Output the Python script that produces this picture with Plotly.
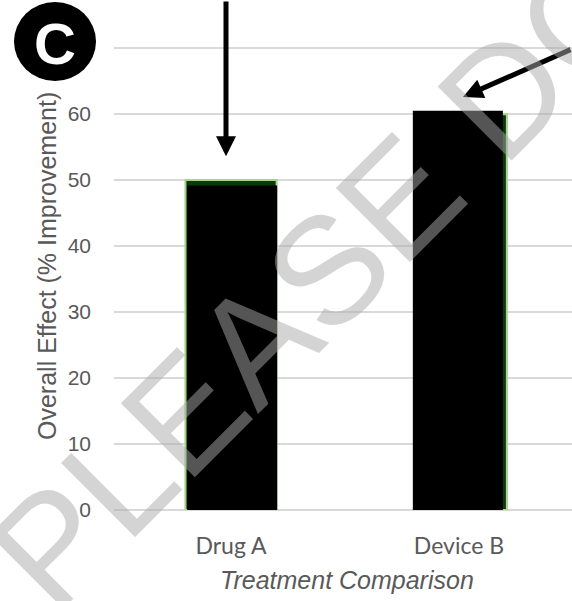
import plotly.graph_objects as go

# Treatment data
categories = ["Drug A", "Device B"]
x_pos = [0, 1]
# underlying (green) bars and overlaid (black) bars, % improvement
green_values = [50.0, 60.0]
black_values = [49.2, 60.5]
y_ticks = [0, 10, 20, 30, 40, 50, 60, 70]

W, H = 572, 601
ML, MR, MT, MB = 114, 0, 0, 91
PW, PH = W - ML - MR, H - MT - MB
Y_MAX = 77.3
X_RANGE = [-0.5132, 1.4956]


def px_x(px):
    return (px - ML) / PW


def px_y(py):
    return (MT + PH - py) / PH


fig = go.Figure()

fig.add_trace(go.Bar(
    x=[x_pos[0], x_pos[1] + 0.01], y=green_values, width=0.40,
    marker=dict(color="#0a3a0a", line=dict(color="#a9d18e", width=2)),
    showlegend=False, hoverinfo="skip",
))
fig.add_trace(go.Bar(
    x=[x_pos[0] + 0.005, x_pos[1] - 0.005], y=black_values, width=0.395,
    marker=dict(color="#000000", line=dict(width=0)),
    showlegend=False, hoverinfo="skip",
))

grid = "#d9d9d9"
fig.update_layout(
    width=W, height=H,
    margin=dict(l=ML, r=MR, t=MT, b=MB, pad=0),
    paper_bgcolor="white", plot_bgcolor="white",
    barmode="overlay",
    xaxis=dict(
        range=X_RANGE, tickvals=x_pos, ticktext=categories,
        showgrid=False, zeroline=False, showline=False, ticks="",
        tickfont=dict(family="Lato", size=23, color="#595959"),
        ticklabelstandoff=20,
    ),
    yaxis=dict(
        range=[0, Y_MAX], tickvals=y_ticks,
        ticktext=[str(v) if v < 70 else "" for v in y_ticks],
        showgrid=True, gridcolor=grid, gridwidth=2,
        zeroline=True, zerolinecolor=grid, zerolinewidth=2,
        showline=False, ticks="",
        tickfont=dict(family="Liberation Sans", size=21, color="#595959"),
        ticklabelstandoff=22,
    ),
)

C = dict(xanchor="center", yanchor="middle")
annotations = [
    # axis titles
    dict(text="Overall Effect (% Improvement)", xref="paper", yref="paper",
         x=px_x(47), y=px_y(266), showarrow=False, textangle=-90,
         font=dict(family="Liberation Sans", size=25, color="#595959"), **C),
    dict(text="<i>Treatment Comparison</i>", xref="paper", yref="paper",
         x=px_x(347), y=px_y(580), showarrow=False,
         font=dict(family="Liberation Sans", size=25, color="#595959"), **C),
    # panel letter
    dict(text="<b>C</b>", xref="paper", yref="paper",
         x=px_x(55), y=px_y(43), showarrow=False,
         font=dict(family="Liberation Sans", size=58, color="white"), **C),
    # pointer arrows
    dict(text="", x=-0.022, y=53.6, xref="x", yref="y",
         showarrow=True, arrowhead=2, arrowsize=0.8, arrowwidth=5,
         arrowcolor="black", ax=0, ay=-165, standoff=0),
    dict(text="", x=1.0175, y=62.6, xref="x", yref="y",
         showarrow=True, arrowhead=2, arrowsize=0.8, arrowwidth=5,
         arrowcolor="black", ax=125, ay=-48, standoff=0),
    # watermark
    dict(text="PLEASE DO NOT COPY", xref="paper", yref="paper",
         x=px_x(616), y=px_y(-19), showarrow=False, textangle=-45,
         font=dict(family="Liberation Sans", size=152,
                   color="rgba(169,169,169,0.5)"), **C),
]
fig.update_layout(annotations=annotations)

fig.add_shape(type="circle", xref="paper", yref="paper",
              x0=px_x(14), x1=px_x(96), y0=px_y(81), y1=px_y(2),
              fillcolor="black", line=dict(color="black", width=0),
              layer="below")

fig.write_html("out.html")
